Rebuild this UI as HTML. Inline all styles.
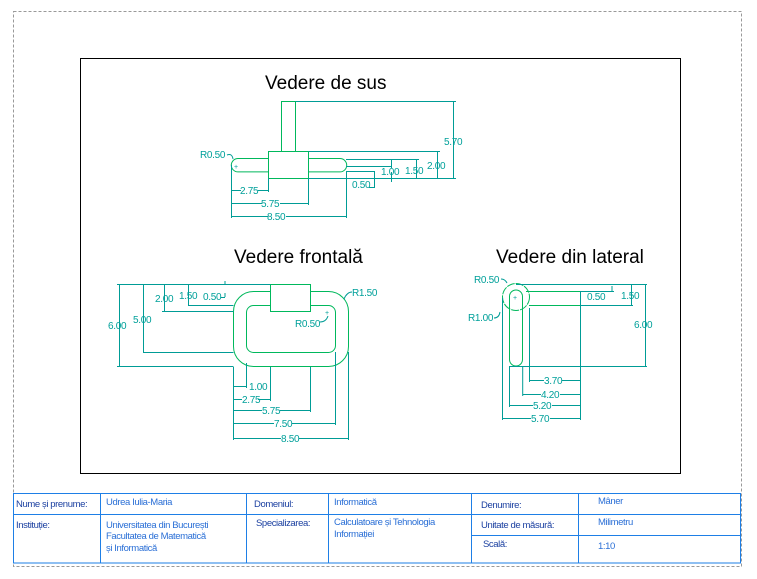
<!DOCTYPE html>
<html><head><meta charset="utf-8"><style>
html,body{margin:0;padding:0;background:#fff;width:757px;height:579px;overflow:hidden}
svg{display:block}
.g{stroke:#00b85c;stroke-width:1;fill:none}
.d{stroke:#009c96;stroke-width:1;fill:none}
.t{font-family:"Liberation Sans",sans-serif;font-size:10px;fill:#00a09a;letter-spacing:-0.3px}
.h{font-family:"Liberation Sans",sans-serif;font-size:19px;fill:#000}
.b{font-family:"Liberation Sans","Noto Sans CJK SC",sans-serif;font-size:9.5px;fill:#1a3fa0;letter-spacing:-0.4px}
.bl{font-family:"Liberation Sans","Noto Sans CJK SC",sans-serif;font-size:9.5px;fill:#2a6fd6;letter-spacing:-0.4px}
</style></head><body>
<svg width="757" height="579" viewBox="0 0 757 579" xmlns="http://www.w3.org/2000/svg">
<rect x="13.5" y="11.5" width="728" height="555" fill="none" stroke="#999" stroke-dasharray="3,2"/>
<rect x="80.5" y="58.5" width="600" height="415" fill="none" stroke="#000"/>

<text class="h" x="265" y="89">Vedere de sus</text>
<text class="h" x="234" y="263">Vedere frontală</text>
<text class="h" x="496" y="263">Vedere din lateral</text>

<!-- TOP VIEW -->
<g>
<path class="g" d="M281.5 151.5V101.5H295.5V151.5"/>
<rect class="g" x="268.5" y="151.5" width="40" height="27"/>
<path class="g" d="M268.5 158.5H238a6.7 6.7 0 0 0 0 13.4H268.5"/>
<path class="g" d="M308.5 158.5H340a6.7 6.7 0 0 1 0 13.4H308.5"/>
<path class="d" d="M295.5 101.5H456M308.5 151.5H440M308.5 178.5H456M346 159.5H419M346 166.5H392M346 171.5H375"/>
<path class="d" d="M453.5 101.5V178.5M437.5 151.5V178.5M416.5 159.5V178.5M391.5 160V168M391.5 172V182M374.5 171.5V188M369 187.5H374.5"/>
<path class="d" d="M231.5 165V218M268.5 178V192M308.5 178V205M346.5 172V218"/>
<path class="d" d="M231.5 190.5H241M258 190.5H268.5M231.5 203.5H262M280 203.5H308.5M231.5 216.5H268M286 216.5H346.5"/>
<path class="d" d="M227 155q5 -2 6 4"/>
<text class="t" x="444" y="145">5.70</text>
<text class="t" x="427" y="169">2.00</text>
<text class="t" x="405" y="174">1.50</text>
<text class="t" x="381" y="175">1.00</text>
<text class="t" x="352" y="188">0.50</text>
<text class="t" x="240" y="194">2.75</text>
<text class="t" x="261" y="207">5.75</text>
<text class="t" x="267" y="220">8.50</text>
<text class="t" x="200" y="158">R0.50</text>
<text class="t" x="234" y="169" style="font-size:7px">+</text>
</g>

<!-- FRONT VIEW -->
<g>
<rect class="g" x="233.5" y="291.5" width="115" height="75" rx="20"/>
<rect class="g" x="246.5" y="305.5" width="89" height="47" rx="7"/>
<rect x="270.5" y="284.5" width="40" height="27" fill="#fff" stroke="#00b85c"/>
<path class="d" d="M117 284.5H270.5M117 366.5H233.5M143 352.5H233.5M162 311.5H233.5M188 305.5H233.5M225 281V285M225 293V297M221 297.5H225"/>
<path class="d" d="M119.5 284.5V366.5M143.5 284.5V352.5M164.5 284.5V311.5M188.5 284.5V305.5"/>
<path class="d" d="M233.5 367V440M246.5 363V388M270.5 367V401M310.5 367V412M335.5 352V425M348.5 352V440"/>
<path class="d" d="M233.5 386.5H246.5M233.5 399.5H242M258 399.5H270.5M233.5 410.5H262M280 410.5H310.5M233.5 423.5H274M292 423.5H335.5M233.5 438.5H281M299 438.5H348.5"/>
<path class="d" d="M344 299q3 -7 8 -7M320 322q6 0 8 -6"/>
<text class="t" x="108" y="329">6.00</text>
<text class="t" x="133" y="323">5.00</text>
<text class="t" x="155" y="302">2.00</text>
<text class="t" x="179" y="299">1.50</text>
<text class="t" x="203" y="300">0.50</text>
<text class="t" x="352" y="296">R1.50</text>
<text class="t" x="295" y="327">R0.50</text>
<text class="t" x="325" y="315" style="font-size:7px">+</text>
<text class="t" x="249" y="390">1.00</text>
<text class="t" x="242" y="403">2.75</text>
<text class="t" x="262" y="414">5.75</text>
<text class="t" x="274" y="427">7.50</text>
<text class="t" x="281" y="442">8.50</text>
</g>

<!-- SIDE VIEW -->
<g>
<circle class="g" cx="516" cy="297" r="13.5" stroke-dasharray="8,1"/>
<rect class="g" x="509.5" y="290" width="13" height="76" rx="6.5"/>
<path class="g" d="M526 291.5H580.5M529 305.5H580.5"/>
<path class="d" d="M516 284.5H647M580.5 291.5V366M509 366.5H647M580 291.5H614M612 286V291.5M580 305.5H633"/>
<path class="d" d="M645.5 284.5V366.5M631.5 284.5V305.5"/>
<path class="d" d="M502.5 298V420M509.5 366V407M522.7 366V396M529.5 308V382M580.5 366V420"/>
<path class="d" d="M529.5 380.5H544M562 380.5H580.5M522.5 394.5H541M560 394.5H580.5M509.5 405.5H533M552 405.5H580.5M502.5 418.5H531M550 418.5H580.5"/>
<path class="d" d="M501 279q4 0 6 4M494 318q5 0 6 -6"/>
<text class="t" x="474" y="283">R0.50</text>
<text class="t" x="468" y="321">R1.00</text>
<text class="t" x="587" y="300">0.50</text>
<text class="t" x="621" y="299">1.50</text>
<text class="t" x="634" y="328">6.00</text>
<text class="t" x="544" y="384">3.70</text>
<text class="t" x="541" y="398">4.20</text>
<text class="t" x="533" y="409">5.20</text>
<text class="t" x="531" y="422">5.70</text>
<text class="t" x="513" y="300" style="font-size:7px">+</text>
</g>

<!-- TABLE -->
<g stroke="#1e7fe6" stroke-width="1" fill="none">
<rect x="13.5" y="493.5" width="727" height="69.5"/>
<path d="M13.5 514.5H740.5M471.5 535.5H740.5M100.5 493.5V563M246.5 493.5V563M328.5 493.5V563M471.5 493.5V563M578.5 493.5V563"/>
</g>
<text class="b" x="16" y="507">Nume și prenume:</text>
<text class="bl" x="106" y="505">Udrea Iulia-Maria</text>
<text class="b" x="254" y="507">Domeniul:</text>
<text class="bl" x="334" y="505">Informatică</text>
<text class="b" x="481" y="508">Denumire:</text>
<text class="bl" x="598" y="504">Mâner</text>
<text class="b" x="16" y="528">Instituție:</text>
<text class="bl" x="106" y="528">Universitatea din București</text>
<text class="bl" x="106" y="539">Facultatea de Matematică</text>
<text class="bl" x="106" y="551">și Informatică</text>
<text class="b" x="256" y="526">Specializarea:</text>
<text class="bl" x="334" y="525">Calculatoare și Tehnologia</text>
<text class="bl" x="334" y="537">Informației</text>
<text class="b" x="481" y="528">Unitate de măsură:</text>
<text class="bl" x="598" y="525">Milimetru</text>
<text class="b" x="483" y="547">Scală:</text>
<text class="bl" x="598" y="549">1:10</text>
</svg>
</body></html>
